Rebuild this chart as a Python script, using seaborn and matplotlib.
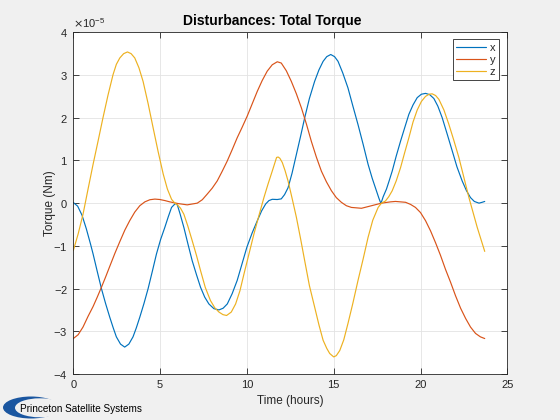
import matplotlib
matplotlib.use("Agg")
import matplotlib.pyplot as plt
from matplotlib.patches import Ellipse
from matplotlib.ticker import ScalarFormatter
import seaborn as sns
import pandas as pd
import numpy as np

# ---- data (torque values in units of 1e-5 Nm, time in hours) ----
t_x = [0.0, 0.25, 0.5, 0.75, 1.0, 1.14, 1.38, 1.62, 1.86, 2.1, 2.3, 2.48, 2.72, 2.96,
       3.2, 3.44, 3.63, 3.83, 4.07, 4.31, 4.55, 4.79, 5.03, 5.27, 5.47, 5.66, 5.85,
       5.93, 6.0, 6.15, 6.37, 6.6, 6.85, 7.1, 7.33, 7.57, 7.81, 8.1, 8.39, 8.63, 8.87,
       9.15, 9.44, 9.72, 10.0, 10.3, 10.6, 10.85, 11.08, 11.27, 11.46, 11.75, 11.98,
       12.17, 12.37, 12.6, 12.85, 13.1, 13.33, 13.6, 13.9, 14.15, 14.39, 14.6, 14.83,
       15.05, 15.25, 15.52, 15.82, 16.1, 16.4, 16.7, 16.98, 17.22, 17.46, 17.6, 17.72,
       17.85, 18.04, 18.2, 18.37, 18.6, 18.85, 19.1, 19.33, 19.57, 19.81, 20.05, 20.29,
       20.53, 20.77, 21.0, 21.25, 21.55, 21.83, 22.1, 22.4, 22.65, 22.88, 23.1, 23.37,
       23.55, 23.7]
x_vals = [0.015, -0.07, -0.28, -0.6, -0.97, -1.19, -1.6, -2.0, -2.35, -2.67, -2.92,
          -3.13, -3.3, -3.37, -3.3, -3.13, -2.92, -2.67, -2.35, -2.0, -1.6, -1.19, -0.85,
          -0.57, -0.32, -0.1, -0.02, -0.01, -0.05, -0.25, -0.57, -0.95, -1.35, -1.68,
          -1.97, -2.2, -2.36, -2.47, -2.5, -2.46, -2.36, -2.12, -1.81, -1.42, -1.03,
          -0.7, -0.41, -0.18, -0.02, 0.06, 0.09, 0.085, 0.1, 0.2, 0.36, 0.7, 1.14, 1.58,
          2.0, 2.45, 2.85, 3.12, 3.32, 3.43, 3.48, 3.43, 3.32, 3.05, 2.7, 2.28, 1.84,
          1.37, 0.91, 0.58, 0.29, 0.12, -0.01, 0.15, 0.33, 0.53, 0.75, 1.1, 1.45, 1.78,
          2.08, 2.3, 2.47, 2.55, 2.57, 2.54, 2.45, 2.27, 2.0, 1.6, 1.22, 0.85, 0.52, 0.29,
          0.13, 0.04, 0.0, 0.02, 0.04]

t_y = [0.0, 0.28, 0.56, 0.85, 1.14, 1.38, 1.62, 1.86, 2.1, 2.4, 2.68, 2.97, 3.25, 3.54,
       3.83, 4.12, 4.41, 4.7, 4.99, 5.28, 5.56, 6.04, 6.56, 7.14, 7.43, 7.71, 8.0, 8.29,
       8.57, 8.86, 9.15, 9.44, 9.73, 10.02, 10.31, 10.6, 10.88, 11.17, 11.46, 11.75,
       11.98, 12.27, 12.56, 12.85, 13.14, 13.43, 13.71, 14.0, 14.29, 14.58, 14.87, 15.15,
       15.44, 15.73, 16.02, 16.6, 17.18, 17.75, 18.27, 18.56, 19.14, 19.43, 19.71, 20.0,
       20.29, 20.58, 20.87, 21.15, 21.44, 21.73, 22.02, 22.31, 22.6, 22.88, 23.17, 23.45,
       23.7]
y_vals = [-3.17, -3.08, -2.9, -2.65, -2.42, -2.2, -1.97, -1.73, -1.48, -1.17, -0.9,
          -0.63, -0.41, -0.21, -0.06, 0.03, 0.08, 0.095, 0.085, 0.06, 0.03, -0.01, -0.04,
          0.0, 0.08, 0.21, 0.35, 0.52, 0.74, 0.98, 1.25, 1.53, 1.78, 2.04, 2.33, 2.62,
          2.87, 3.09, 3.24, 3.31, 3.28, 3.1, 2.85, 2.56, 2.23, 1.85, 1.45, 1.08, 0.75, 0.5,
          0.29, 0.13, 0.02, -0.06, -0.1, -0.12, -0.06, 0.0, 0.03, 0.04, 0.02, -0.03, -0.1,
          -0.22, -0.41, -0.65, -0.93, -1.22, -1.55, -1.85, -2.17, -2.46, -2.7, -2.9, -3.05,
          -3.13, -3.17]

t_z = [0.0, 0.28, 0.56, 0.85, 1.14, 1.43, 1.71, 2.0, 2.29, 2.48, 2.68, 2.9, 3.12, 3.33,
       3.54, 3.78, 4.02, 4.31, 4.6, 4.89, 5.18, 5.42, 5.66, 5.85, 6.0, 6.18, 6.37, 6.6,
       6.85, 7.1, 7.33, 7.6, 7.9, 8.15, 8.39, 8.62, 8.83, 9.1, 9.35, 9.6, 9.83, 10.1,
       10.4, 10.7, 10.98, 11.22, 11.46, 11.6, 11.71, 11.8, 11.9, 12.04, 12.2, 12.37, 12.6,
       12.85, 13.1, 13.33, 13.6, 13.9, 14.15, 14.39, 14.6, 14.77, 15.0, 15.15, 15.35,
       15.58, 15.82, 16.1, 16.4, 16.7, 16.98, 17.25, 17.56, 17.75, 17.98, 18.17, 18.37,
       18.6, 18.85, 19.1, 19.33, 19.57, 19.81, 20.05, 20.29, 20.5, 20.67, 20.87, 21.06,
       21.35, 21.63, 21.92, 22.21, 22.5, 22.79, 23.03, 23.27, 23.5, 23.7]
z_vals = [-1.11, -0.72, -0.26, 0.33, 0.91, 1.46, 2.0, 2.53, 3.01, 3.25, 3.4, 3.5, 3.54,
          3.5, 3.4, 3.17, 2.85, 2.33, 1.76, 1.2, 0.68, 0.33, 0.09, 0.0, -0.04, -0.12,
          -0.26, -0.54, -0.88, -1.23, -1.58, -1.97, -2.28, -2.45, -2.55, -2.61, -2.63,
          -2.55, -2.36, -2.05, -1.66, -1.22, -0.73, -0.28, 0.13, 0.45, 0.75, 0.93, 1.07,
          1.08, 1.05, 0.95, 0.76, 0.52, 0.12, -0.33, -0.85, -1.35, -1.93, -2.43, -2.85,
          -3.21, -3.4, -3.52, -3.6, -3.57, -3.45, -3.2, -2.82, -2.35, -1.81, -1.3, -0.8,
          -0.4, -0.1, 0.0, 0.05, 0.15, 0.29, 0.52, 0.83, 1.2, 1.53, 1.9, 2.18, 2.38, 2.5,
          2.55, 2.56, 2.52, 2.43, 2.18, 1.85, 1.47, 1.07, 0.6, 0.13, -0.22, -0.57, -0.87,
          -1.13]

series_names = ["x", "y", "z"]
colors = ["#0072BD", "#D95319", "#EDB120"]
x_ticks = [0, 5, 10, 15, 20, 25]
y_ticks = [-4, -3, -2, -1, 0, 1, 2, 3, 4]
scale = 1e-5

sns.set_theme(style="white")
plt.rcParams["font.family"] = ["Liberation Sans", "DejaVu Sans"]
plt.rcParams["axes.unicode_minus"] = False

W, H = 560, 420
fig = plt.figure(figsize=(W / 100, H / 100), dpi=100, facecolor="#f0f0f0")
ax = fig.add_axes([73.3 / W, 46 / H, (507.3 - 73.3) / W, (374 - 32.3) / H])
ax.set_facecolor("white")

for name, tt, vv, c in zip(series_names, [t_x, t_y, t_z], [x_vals, y_vals, z_vals], colors):
    df = pd.DataFrame({"t": tt, "v": np.array(vv) * scale})
    sns.lineplot(data=df, x="t", y="v", ax=ax, color=c, lw=0.85, label=name,
                 sort=False, estimator=None)

ax.set_xlim(0, 25)
ax.set_ylim(-4 * scale, 4 * scale)
ax.set_xticks(x_ticks)
ax.set_yticks([v * scale for v in y_ticks])
fmt = ScalarFormatter(useMathText=True)
fmt.set_powerlimits((0, 0))
ax.yaxis.set_major_formatter(fmt)
ax.yaxis.get_offset_text().set_fontsize(8)
ax.yaxis.get_offset_text().set_color("#262626")

ax.grid(True, color="#e3e3e3", lw=0.6)
ax.set_axisbelow(True)
for s in ax.spines.values():
    s.set_color("#262626")
    s.set_linewidth(0.6)
    s.set_visible(True)
ax.tick_params(direction="in", length=4, width=0.6, color="#262626", labelcolor="#262626",
               labelsize=8, top=True, right=True, bottom=True, left=True, pad=4)

ax.set_title("Disturbances: Total Torque", fontsize=10, fontweight="bold", color="black",
             x=(272.3 - 73.3) / 434, pad=5)
ax.set_xlabel("Time (hours)", fontsize=8.5, color="#262626", labelpad=4)
ax.set_ylabel("Torque (Nm)", fontsize=8.5, color="#262626", labelpad=-2)

leg = ax.legend(loc="upper right", bbox_to_anchor=(1 - 8 / 434, 1 - 7 / 341.7),
                fontsize=8, handlelength=2.7, handletextpad=0.3, borderpad=0.35,
                labelspacing=0.15, borderaxespad=0, fancybox=False, framealpha=1,
                edgecolor="#262626")
leg.get_frame().set_linewidth(0.6)

# logo (crescent + name)
def inch(px, py):
    return (px / 100, (H - py) / 100)

fig.add_artist(Ellipse(inch(31, 407.5), 0.56, 0.22,
                       transform=fig.dpi_scale_trans, color="#1a56a0", lw=0))
fig.add_artist(Ellipse(inch(40, 407.8), 0.50, 0.19,
                       transform=fig.dpi_scale_trans, color="#f0f0f0", lw=0))
fig.text(20 / W, 1 - 412 / H, "Princeton Satellite Systems", fontsize=7.2,
         color="black", va="baseline", ha="left")

fig.savefig("out.png", dpi=100, facecolor=fig.get_facecolor())
